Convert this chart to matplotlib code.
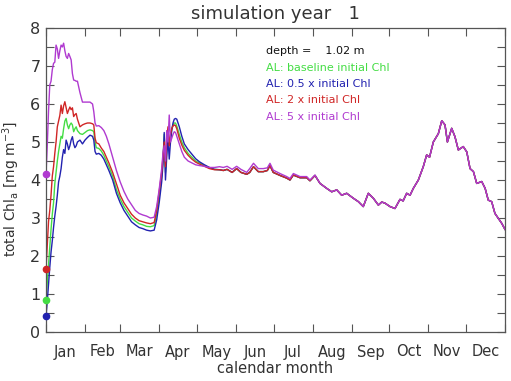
import numpy as np
import matplotlib
matplotlib.use("Agg")
import matplotlib.pyplot as plt

# ---------------- data ----------------
early_days = [0, 1, 2, 3, 4, 5, 6, 7, 8, 9, 10, 11, 12, 13, 14, 15, 16, 17, 18, 19,
              20, 21, 22, 23, 24, 25, 27, 29, 31, 33, 35, 37, 38, 39, 40, 42, 44, 46,
              48, 50, 53, 56, 59, 62, 65, 68, 71, 74, 77, 80, 83, 86, 88, 90, 92, 93,
              94, 95, 96, 97, 98, 99, 100, 101, 102, 103, 104, 106, 108, 110, 113,
              116, 119, 122, 126, 130, 134]

green_early = [0.83, 1.3, 1.8, 2.2, 2.7, 3.1, 3.4, 3.9, 4.2, 4.5, 4.75, 4.95, 5.15, 5.1,
               5.35, 5.55, 5.62, 5.45, 5.35, 5.45, 5.5, 5.45, 5.27, 5.35, 5.4, 5.3, 5.22,
               5.2, 5.25, 5.3, 5.32, 5.3, 5.27, 5.0, 4.85, 4.83, 4.76, 4.65, 4.5, 4.35,
               4.1, 3.75, 3.5, 3.3, 3.15, 3.0, 2.92, 2.85, 2.82, 2.78, 2.77, 2.8, 3.1,
               3.55, 4.1, 4.5, 5.2, 4.2, 4.8, 5.3, 4.95, 5.1, 5.35, 5.45, 5.5, 5.5, 5.42,
               5.2, 5.0, 4.85, 4.7, 4.6, 4.5, 4.45, 4.38, 4.32, 4.28]

blue_early = [0.41, 0.8, 1.25, 1.7, 2.1, 2.4, 2.75, 3.05, 3.3, 3.6, 3.95, 4.1, 4.3, 4.6,
              4.8, 4.7, 5.05, 4.95, 4.8, 4.9, 5.05, 5.14, 4.95, 4.85, 4.9, 5.0, 5.05,
              4.95, 5.05, 5.12, 5.18, 5.15, 5.05, 4.75, 4.68, 4.7, 4.65, 4.55, 4.4, 4.25,
              4.0, 3.65, 3.4, 3.2, 3.05, 2.9, 2.82, 2.75, 2.72, 2.68, 2.66, 2.68, 2.95,
              3.4, 3.95, 4.4, 5.25, 4.0, 4.6, 5.1, 4.55, 5.0, 5.3, 5.5, 5.6, 5.62, 5.6,
              5.4, 5.15, 4.95, 4.8, 4.68, 4.56, 4.48, 4.4, 4.33, 4.28]

red_early = [1.65, 2.3, 2.9, 3.2, 3.6, 4.1, 4.35, 4.7, 5.0, 5.4, 5.55, 5.7, 5.97, 5.75,
             5.95, 6.06, 5.9, 5.75, 5.84, 5.92, 5.85, 5.9, 5.67, 5.72, 5.75, 5.6, 5.4,
             5.45, 5.48, 5.5, 5.5, 5.48, 5.45, 5.1, 4.98, 4.95, 4.84, 4.75, 4.6, 4.45,
             4.2, 3.9, 3.6, 3.4, 3.25, 3.1, 3.0, 2.93, 2.9, 2.87, 2.85, 2.88, 3.2, 3.7,
             4.2, 4.6, 5.0, 4.35, 5.1, 5.4, 4.9, 5.2, 5.35, 5.42, 5.45, 5.43, 5.35, 5.1,
             4.92, 4.78, 4.65, 4.55, 4.47, 4.42, 4.36, 4.3, 4.27]

purple_early = [4.15, 4.9, 5.8, 6.5, 6.6, 6.9, 7.07, 7.1, 7.55, 7.45, 7.2, 7.4, 7.55, 7.5,
                7.6, 7.4, 7.25, 7.2, 7.33, 7.25, 7.16, 6.8, 6.63, 6.62, 6.6, 6.6, 6.3,
                6.05, 6.05, 6.05, 6.05, 6.0, 5.8, 5.5, 5.42, 5.43, 5.38, 5.3, 5.15, 4.95,
                4.6, 4.25, 3.95, 3.7, 3.5, 3.35, 3.2, 3.12, 3.08, 3.05, 3.0, 3.02, 3.3,
                3.75, 4.3, 4.7, 4.9, 4.5, 5.3, 5.0, 5.71, 5.0, 5.1, 5.2, 5.27, 5.25, 5.15,
                4.95, 4.75, 4.6, 4.5, 4.45, 4.4, 4.38, 4.36, 4.33, 4.33]

mid_days = [138, 141, 144, 148, 151.6, 155, 159.6, 162, 165, 168.8, 172.8, 176, 178.1,
            180.7, 186.1, 191.4, 194, 196.7, 202, 207.3, 209.9, 213.9]
common_mid = [4.27, 4.25, 4.28, 4.2, 4.3, 4.2, 4.15, 4.2, 4.35, 4.22, 4.22, 4.25, 4.38,
              4.2, 4.12, 4.05, 4.0, 4.13, 4.06, 4.06, 3.98, 4.12]
purple_mid = [4.35, 4.33, 4.36, 4.28, 4.36, 4.28, 4.2, 4.3, 4.44, 4.3, 4.3, 4.32, 4.44,
              4.26, 4.17, 4.09, 4.04, 4.17, 4.09, 4.09, 4.0, 4.13]

late_days = [217.9, 223.2, 227.2, 231.2, 235.1, 239.1, 244.4, 248.4, 252.3, 256.3, 260.3,
             264.3, 267, 269.6, 273.6, 277.5, 281.5, 284, 286.8, 289.5, 292.1, 296.1, 300,
             302.7, 305, 308, 312, 314.7, 317.3, 319.2, 322.6, 325.2, 327.9, 331.8, 334.6,
             337.2, 339.9, 342.5, 346.5, 349.2, 351.7, 354.4, 357, 359.7, 362.4, 365]
late_common = [3.91, 3.78, 3.69, 3.74, 3.6, 3.65, 3.52, 3.43, 3.3, 3.65, 3.52, 3.34, 3.42,
               3.39, 3.3, 3.25, 3.49, 3.45, 3.65, 3.6, 3.78, 4.0, 4.35, 4.66, 4.6, 5.0,
               5.22, 5.56, 5.45, 5.0, 5.36, 5.14, 4.79, 4.88, 4.74, 4.3, 4.22, 3.91, 3.96,
               3.78, 3.47, 3.43, 3.12, 2.99, 2.86, 2.7]

month_starts = [0, 31, 59, 90, 120, 151, 181, 212, 243, 273, 304, 334, 365]
month_labels = ["Jan", "Feb", "Mar", "Apr", "May", "Jun", "Jul", "Aug", "Sep", "Oct",
                "Nov", "Dec"]
y_ticks = [0, 1, 2, 3, 4, 5, 6, 7, 8]

legend_header = "depth =    1.02 m"
series_labels = ["AL: baseline initial Chl", "AL: 0.5 x initial Chl",
                 "AL: 2 x initial Chl", "AL: 5 x initial Chl"]

# ---------------- style ----------------
GREEN = "#44dd44"
BLUE = "#2222b0"
RED = "#d02626"
PURPLE = "#b03ad0"
TXT = "#333333"
FRAME = "#555555"

plt.rcParams["font.family"] = ["DejaVu Sans"]

fig = plt.figure(figsize=(5.11, 3.81), dpi=100)
ax = fig.add_axes([46 / 511, 1 - 332 / 381, (505 - 46) / 511, (332 - 28) / 381])

all_days = early_days + mid_days + late_days
series = [
    (green_early + common_mid + late_common, GREEN),
    (blue_early + common_mid + late_common, BLUE),
    (red_early + common_mid + late_common, RED),
    (purple_early + purple_mid + late_common, PURPLE),
]
for vals, col in series:
    ax.plot(all_days, vals, color=col, lw=1.0, solid_joinstyle="round")
for vals, col in series:
    ax.plot(all_days[0], vals[0], "o", color=col, ms=4.5, mec=col, clip_on=False, zorder=5)

ax.set_xlim(0, 365)
ax.set_ylim(0, 8)

# x ticks: month boundaries (no labels), labels at mid-month
ax.set_xticks(month_starts)
ax.set_xticklabels([])
mids = [(month_starts[i] + month_starts[i + 1]) / 2 for i in range(12)]
ax.set_xticks(mids, minor=True)
ax.set_xticklabels(month_labels, minor=True)
ax.tick_params(axis="x", which="minor", length=0, pad=9, labelsize=10.5, labelcolor=TXT)
ax.tick_params(axis="x", which="major", direction="in", length=6, top=True,
               color=FRAME, width=0.8)

ax.set_yticks(y_ticks)
ax.set_yticks([v + 0.5 for v in y_ticks[:-1]], minor=True)
ax.tick_params(axis="y", which="both", direction="in", length=6, right=True,
               color=FRAME, width=0.8)
ax.tick_params(axis="y", which="major", labelsize=11.5, labelcolor=TXT, pad=4)

for s in ax.spines.values():
    s.set_color(FRAME)
    s.set_linewidth(0.9)

ax.set_xlabel("calendar month", fontsize=10.5, color=TXT, labelpad=1)
ax.set_ylabel("total Chl$_\\mathregular{a}$ [mg m$^\\mathregular{-3}$]", fontsize=10,
              color=TXT)
ax.yaxis.set_label_coords(-0.052, 0.47)

fig.text(275 / 511, 1 - 14 / 381, "simulation year   1", ha="center", va="center",
         fontsize=13, color=TXT)

# legend text
lx = 266 / 511
ys = [51, 68, 84, 100, 117]
fig.text(lx, 1 - ys[0] / 381, legend_header, ha="left", va="center", fontsize=8,
         color="#111111")
for (lab, (vals, col)), yy in zip(zip(series_labels, series), ys[1:]):
    fig.text(lx, 1 - yy / 381, lab, ha="left", va="center", fontsize=8, color=col)

fig.savefig("out.png", dpi=100)
